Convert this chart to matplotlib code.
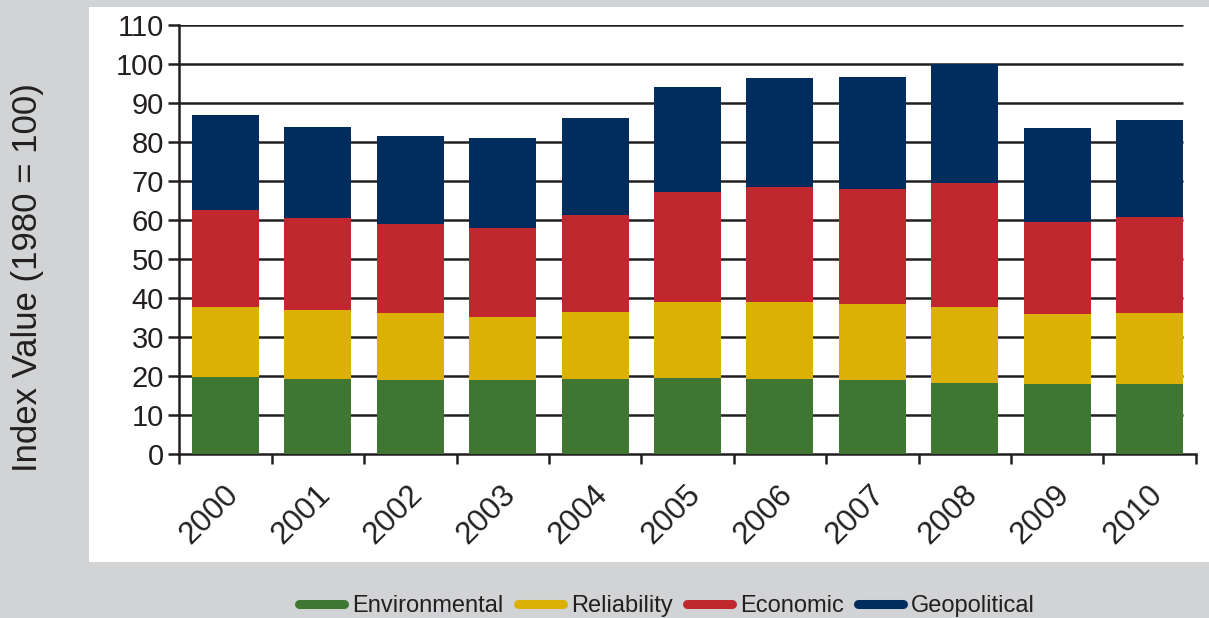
import numpy as np
import matplotlib.pyplot as plt
import matplotlib.transforms as mtransforms
from matplotlib.patches import Rectangle
from matplotlib.lines import Line2D

plt.rcParams['font.family'] = ['Liberation Sans', 'DejaVu Sans']

years = ["2000", "2001", "2002", "2003", "2004", "2005",
         "2006", "2007", "2008", "2009", "2010"]
environmental = [19.7, 19.2, 19.0, 19.0, 19.2, 19.5, 19.2, 19.0, 18.2, 18.0, 18.0]
reliability = [18.0, 17.7, 17.2, 16.1, 17.2, 19.5, 19.8, 19.5, 19.5, 17.9, 18.2]
economic = [24.9, 23.6, 22.8, 22.8, 24.9, 28.2, 29.5, 29.4, 31.8, 23.6, 24.6]
geopolitical = [24.3, 23.3, 22.5, 23.1, 24.9, 26.9, 27.9, 28.8, 30.5, 24.1, 24.8]

series = [("Environmental", environmental, "#3f7631"),
          ("Reliability", reliability, "#dbb007"),
          ("Economic", economic, "#c1272f"),
          ("Geopolitical", geopolitical, "#002d5e")]

ink = "#231f20"
W, H = 1209, 618
fig = plt.figure(figsize=(W / 100, H / 100), dpi=100, facecolor="#d1d3d4")

# white plot panel sitting on the grey page
fig.add_artist(Rectangle((89 / W, 1 - 562 / H), 1 - 89 / W, 555 / H,
                         transform=fig.transFigure, facecolor="white",
                         edgecolor="none", zorder=0))

ax = fig.add_axes([179.3 / W, 1 - 454 / H, (1195.7 - 179.3) / W, (454 - 25) / H])
ax.set_facecolor("none")

x = np.arange(len(years))
width = 0.726
bottom = np.zeros(len(years))
for name, vals, color in series:
    vals = np.array(vals)
    ax.bar(x, vals, width, bottom=bottom, color=color, label=name, zorder=3)
    bottom += vals

ax.set_xlim(-0.5, len(years) - 0.5)
ax.set_ylim(0, 110)

# horizontal rules stop at the right edge of the last bar
ax.hlines(np.arange(10, 111, 10), -0.5, x[-1] + width / 2,
          color=ink, lw=1.8, zorder=1)

for side in ["top", "right"]:
    ax.spines[side].set_visible(False)
for side in ["left", "bottom"]:
    ax.spines[side].set_color(ink)
    ax.spines[side].set_linewidth(1.8)

ax.set_yticks(np.arange(0, 111, 10))
ax.tick_params(axis="y", direction="out", length=8, width=1.8, color=ink,
               labelsize=21, labelcolor=ink, pad=3)

ax.set_xticks(x)
ax.set_xticklabels(years)
ax.set_xticks(np.arange(-0.5, len(years), 1), minor=True)
ax.tick_params(axis="x", which="major", length=0, labelsize=22.5,
               labelcolor=ink, pad=26)
ax.tick_params(axis="x", which="minor", direction="out", length=7.5,
               width=1.8, color=ink)
shift = mtransforms.ScaledTranslation(8 / 100, 0, fig.dpi_scale_trans)
for lbl in ax.get_xticklabels():
    lbl.set_rotation(45)
    lbl.set_ha("right")
    lbl.set_va("center")
    lbl.set_rotation_mode("anchor")
    lbl.set_transform(lbl.get_transform() + shift)

fig.text(27.5 / W, 1 - 278 / H, "Index Value (1980 = 100)", rotation=90,
         ha="center", va="center", fontsize=25, color=ink)

handles = [Line2D([], [], color=c, lw=6.5, solid_capstyle="round")
           for _, _, c in series]
fig.legend(handles, [s[0] for s in series], loc="center",
           bbox_to_anchor=(667 / W, 1 - 606 / H), ncol=4, frameon=False,
           fontsize=17, handlelength=1.9, handletextpad=0.35,
           columnspacing=0.6, labelcolor=ink)

fig.savefig("out.png", dpi=100, facecolor=fig.get_facecolor())
